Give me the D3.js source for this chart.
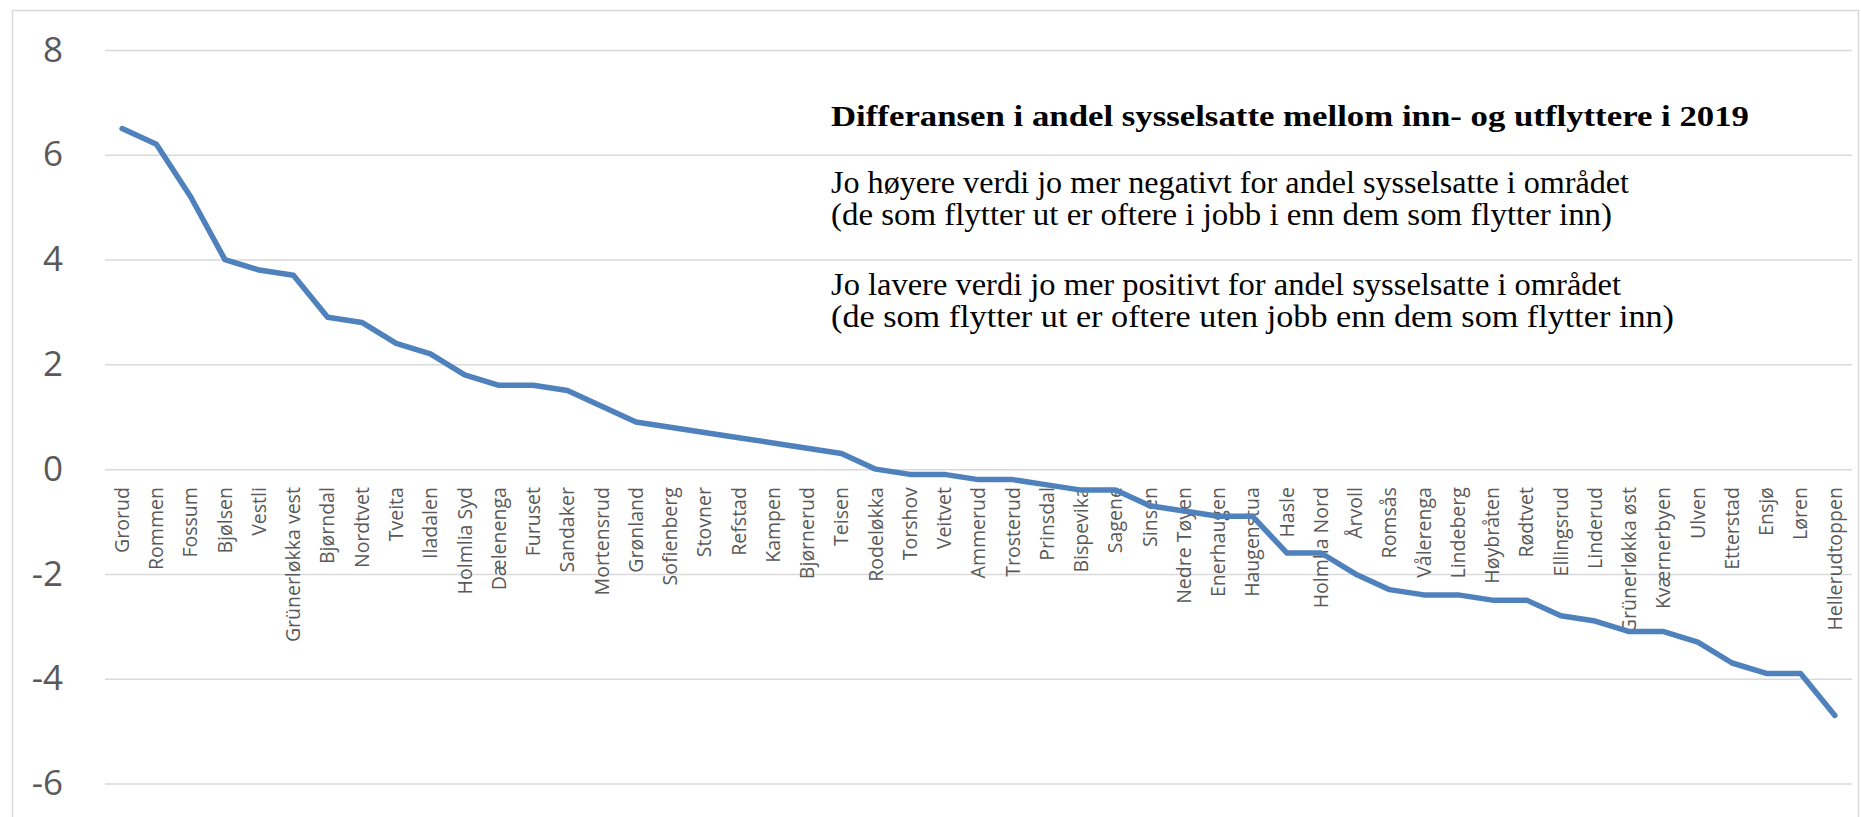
<!DOCTYPE html>
<html>
<head>
<meta charset="utf-8">
<script src="https://cdn.jsdelivr.net/npm/d3@7"></script>
<style>
  html, body { margin: 0; padding: 0; background: #fff; }
  svg { display: block; }
</style>
</head>
<body>
<svg class="chart"></svg>
<script>
const areas = [
  "Grorud", "Rommen", "Fossum", "Bjølsen", "Vestli", "Grünerløkka vest", "Bjørndal",
  "Nordtvet", "Tveita", "Iladalen", "Holmlia Syd", "Dælenenga", "Furuset", "Sandaker",
  "Mortensrud", "Grønland", "Sofienberg", "Stovner", "Refstad", "Kampen", "Bjørnerud",
  "Teisen", "Rodeløkka", "Torshov", "Veitvet", "Ammerud", "Trosterud", "Prinsdal",
  "Bispevika", "Sagene", "Sinsen", "Nedre Tøyen", "Enerhaugen", "Haugenstua", "Hasle",
  "Holmlia Nord", "Årvoll", "Romsås", "Vålerenga", "Lindeberg", "Høybråten", "Rødtvet",
  "Ellingsrud", "Linderud", "Grünerløkka øst", "Kværnerbyen", "Ulven", "Etterstad",
  "Ensjø", "Løren", "Hellerudtoppen"
];

const diff = [
  6.5, 6.2, 5.2, 4.0, 3.8, 3.7, 2.9,
  2.8, 2.4, 2.2, 1.8, 1.6, 1.6, 1.5,
  1.2, 0.9, 0.8, 0.7, 0.6, 0.5, 0.4,
  0.3, 0.0, -0.1, -0.1, -0.2, -0.2, -0.3,
  -0.4, -0.4, -0.7, -0.8, -0.9, -0.9, -1.6,
  -1.6, -2.0, -2.3, -2.4, -2.4, -2.5, -2.5,
  -2.8, -2.9, -3.1, -3.1, -3.3, -3.7,
  -3.9, -3.9, -4.7
];

const yTicks = [-6, -4, -2, 0, 2, 4, 6, 8];

const title = "Differansen i andel sysselsatte mellom inn- og utflyttere i 2019";
const notes = [
  "Jo høyere verdi jo mer negativt for andel sysselsatte i området",
  "(de som flytter ut er oftere i jobb i enn dem som flytter inn)",
  "Jo lavere verdi jo mer positivt for andel sysselsatte i området",
  "(de som flytter ut er oftere uten jobb enn dem som flytter inn)"
];

const width = 1861;
const height = 817;
const margin = {top: 50, right: 9, bottom: 33.5, left: 105};
const innerW = width - margin.left - margin.right;
const innerH = height - margin.top - margin.bottom;

const svg = d3.select(".chart")
  .attr("width", width)
  .attr("height", height)
  .attr("viewBox", [0, 0, width, height]);

// chart frame
svg.append("rect")
  .attr("x", 12.5)
  .attr("y", 10.5)
  .attr("width", width - 15)
  .attr("height", height + 20)
  .attr("fill", "none")
  .attr("stroke", "#d9d9d9")
  .attr("stroke-width", 1.5);

const g = svg.append("g")
  .attr("transform", `translate(${margin.left},${margin.top})`);

const x = d3.scaleBand()
  .domain(areas)
  .range([0, innerW])
  .padding(0);

const y = d3.scaleLinear()
  .domain([-6, 8])
  .range([innerH, 0]);

// y axis + gridlines (plain hyphen for negatives, like Excel)
g.append("g")
  .call(d3.axisLeft(y)
    .tickValues(yTicks)
    .tickFormat(d => String(d))
    .tickSize(-innerW)
    .tickPadding(42))
  .call(ax => ax.select(".domain").remove())
  .call(ax => ax.selectAll("line")
    .attr("stroke", "#d9d9d9")
    .attr("stroke-width", 1.5))
  .call(ax => ax.selectAll("text")
    .attr("fill", "#595959")
    .style("font-family", "'Open Sans', sans-serif")
    .style("font-size", "35px"));

// category axis at zero
g.append("g")
  .attr("transform", `translate(0,${y(0)})`)
  .call(d3.axisBottom(x).tickSize(0))
  .call(ax => ax.select(".domain").remove())
  .call(ax => ax.selectAll("text")
    .attr("transform", "rotate(-90)")
    .attr("x", -18)
    .attr("y", 0)
    .attr("dy", "0.35em")
    .attr("text-anchor", "end")
    .attr("fill", "#595959")
    .style("font-family", "'Open Sans', sans-serif")
    .style("font-size", "19.5px"));

// the line
const line = d3.line()
  .x((d, i) => x(areas[i]) + x.bandwidth() / 2)
  .y(d => y(d));

g.append("path")
  .datum(diff)
  .attr("fill", "none")
  .attr("stroke", "#4f81bd")
  .attr("stroke-width", 5.5)
  .attr("stroke-linejoin", "round")
  .attr("stroke-linecap", "round")
  .attr("d", line);

// text box
const noteX = 831;
const noteFont = "'Liberation Serif', 'Times New Roman', serif";

svg.append("text")
  .attr("x", noteX)
  .attr("y", 126)
  .attr("fill", "#000")
  .style("font-family", noteFont)
  .style("font-weight", "bold")
  .style("font-size", "30px")
  .attr("textLength", 918)
  .attr("lengthAdjust", "spacingAndGlyphs")
  .text(title);

const noteY = [193, 225, 295, 327];
const noteW = [798, 781, 790, 843];

svg.selectAll(".note")
  .data(notes)
  .join("text")
  .attr("class", "note")
  .attr("x", noteX)
  .attr("y", (d, i) => noteY[i])
  .attr("fill", "#000")
  .style("font-family", noteFont)
  .style("font-size", "31px")
  .attr("textLength", (d, i) => noteW[i])
  .attr("lengthAdjust", "spacingAndGlyphs")
  .text(d => d);
</script>
</body>
</html>
